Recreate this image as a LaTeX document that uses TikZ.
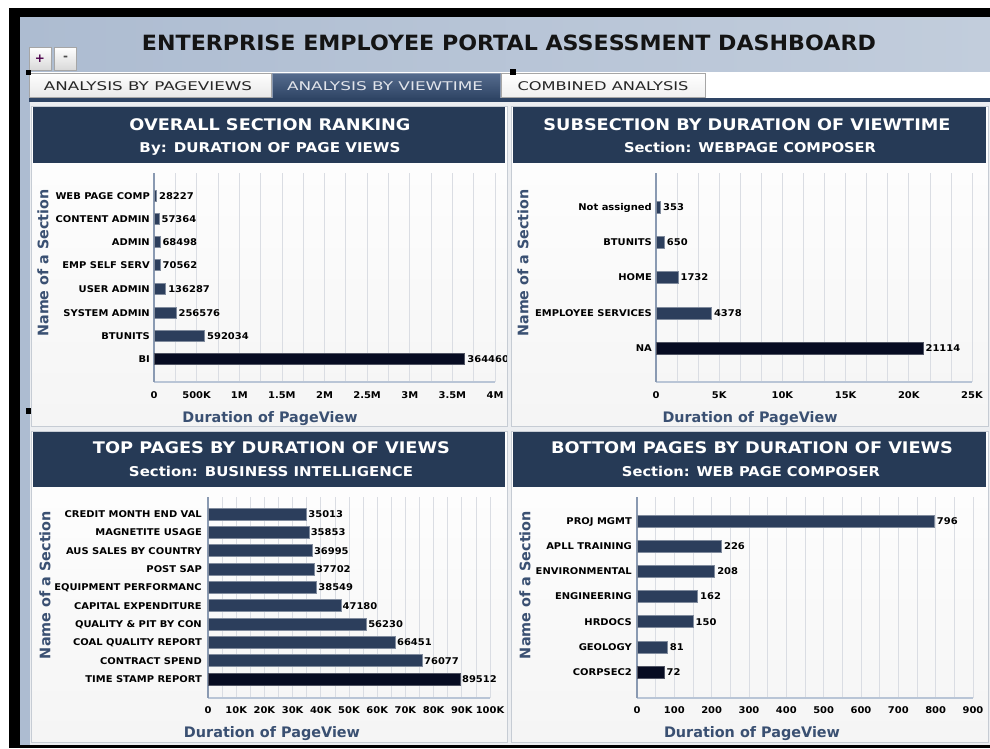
\documentclass[tikz,border=0pt]{standalone}
\usepackage{fontspec}
\setmainfont{DejaVu Sans}
\newfontfamily\lblfont[FakeStretch=1.07]{DejaVu Sans}
\usepackage{graphicx}
\newcommand\fitw[2]{\resizebox{#1pt}{\height}{#2}}
\definecolor{hdrnavy}{HTML}{263A56}
\definecolor{steel}{HTML}{ADBCD1}
\definecolor{steelb}{HTML}{C2CDDC}
\definecolor{tabdark}{HTML}{2E4464}
\definecolor{tabmid}{HTML}{566C8E}
\definecolor{barblue}{HTML}{2C3E5C}
\definecolor{bardark}{HTML}{070C22}
\definecolor{axtitle}{HTML}{3A5072}
\definecolor{gridc}{HTML}{DADDE3}
\definecolor{axisc}{HTML}{8A9AB2}
\definecolor{basec}{HTML}{B9C5D6}
\definecolor{panelb}{HTML}{C6CCD4}
\definecolor{areabg}{HTML}{ECEEF1}
\begin{document}
\begin{tikzpicture}[x=1pt,y=-1pt,
  lbl/.style={inner sep=0pt,font=\lblfont\bfseries\fontsize{9.3}{10}\selectfont,text=black},
  catlab/.style={lbl,anchor=base east},
  vallab/.style={lbl,anchor=base west},
  ticklab/.style={lbl,anchor=center},
  bar/.style={fill=barblue,draw=barblue!60!white,line width=0.5pt},
  darkbar/.style={fill=bardark,draw=bardark!70!white,line width=0.5pt},
  gridl/.style={draw=gridc,line width=0.7pt},
  axisl/.style={draw=axisc,line width=1.2pt},
  basel/.style={draw=basec,line width=1.4pt},
  axt/.style={inner sep=0pt,text=axtitle,font=\bfseries\fontsize{14.5}{16}\selectfont},
  hdr1/.style={inner sep=0pt,anchor=base,text=white,font=\bfseries\fontsize{16}{18}\selectfont},
  hdr2/.style={inner sep=0pt,anchor=base,text=white,font=\bfseries\fontsize{13.5}{15}\selectfont},
  panel/.style={draw=panelb,line width=0.8pt,top color=white,bottom color=black!4},
  hdrbox/.style={fill=hdrnavy},
  tablab/.style={inner sep=0pt,anchor=base,font=\fontsize{12}{14}\selectfont},
  btn/.style={draw=black!35,top color=white,bottom color=black!15,minimum width=22pt,minimum height=23pt,inner sep=0pt,font=\bfseries\fontsize{12}{13}\selectfont},
  marker/.style={fill=black}
]
\useasboundingbox (0,0) rectangle (990,748);
% frame and background
\fill[white] (0,0) rectangle (990,748);
\fill[black] (9,8) rectangle (990,748);
\fill[areabg] (20,17) rectangle (990,745);
\shade[left color=steel,right color=steelb] (20,17) rectangle (990,100);
\fill[steel] (20,17) rectangle (30,745);
% title
\node[inner sep=0pt,anchor=base,text=black!92,font=\bfseries\fontsize{21}{24}\selectfont] (title) at (509,50.7) {\fitw{734}{ENTERPRISE EMPLOYEE PORTAL ASSESSMENT DASHBOARD}};
% zoom buttons
\node[btn,text=violet!60!black] (plus) at (40,58.5) {+};
\node[btn,text=black!70] (minus) at (65.5,58.5) {-};
% tab strip
\fill[white] (29,72) rectangle (990,98);
\draw[draw=black!35,top color=white,bottom color=black!9] (29,73) rectangle (271,97);
\draw[draw=tabmid!70!white,top color=tabmid,bottom color=tabdark] (272,73) rectangle (500,99);
\draw[draw=black!35,top color=white,bottom color=black!6] (501,73) rectangle (705,97);
\fill[tabdark] (29,98) rectangle (990,102);
\node[tablab,text=black!85] (tab1) at (148,90) {\fitw{208}{ANALYSIS BY PAGEVIEWS}};
\node[tablab,text=white!82!tabmid] (tab2) at (385,90) {\fitw{196}{ANALYSIS BY VIEWTIME}};
\node[tablab,text=black!85] (tab3) at (603,90) {\fitw{171}{COMBINED ANALYSIS}};
% selection markers
\fill[marker] (26,70) rectangle (31,75);
\fill[marker] (510,69) rectangle (516,75);
\fill[marker] (26,408) rectangle (31,414);
% panels
\draw[panel] (31,106) rectangle (507,426);
\draw[panel] (511,106) rectangle (988,426);
\draw[panel] (31,431) rectangle (507,742);
\draw[panel] (511,431) rectangle (988,742);
\fill[hdrbox] (33,107) rectangle (505,163);
\fill[hdrbox] (513,107) rectangle (986,163);
\fill[hdrbox] (33,432) rectangle (505,487);
\fill[hdrbox] (513,432) rectangle (986,487);
% headers
\node[hdr1] (h1a) at (270,130.8) {\fitw{281}{OVERALL SECTION RANKING}};
\node[hdr2] (h1b) at (270,152.9) {\fitw{261}{By: DURATION OF PAGE VIEWS}};
\node[hdr1] (h2a) at (747,130.8) {\fitw{407}{SUBSECTION BY DURATION OF VIEWTIME}};
\node[hdr2] (h2b) at (750,152.9) {\fitw{252}{Section: WEBPAGE COMPOSER}};
\node[hdr1] (h3a) at (271.5,453.8) {\fitw{357}{TOP PAGES BY DURATION OF VIEWS}};
\node[hdr2] (h3b) at (271,476.9) {\fitw{284}{Section: BUSINESS INTELLIGENCE}};
\node[hdr1] (h4a) at (752,453.8) {\fitw{402}{BOTTOM PAGES BY DURATION OF VIEWS}};
\node[hdr2] (h4b) at (751,476.9) {\fitw{258}{Section: WEB PAGE COMPOSER}};

% ---------- chart 1 ----------
\begin{scope}
\clip (33,163) rectangle (506,425);
\foreach \i in {1,...,16} \draw[gridl] ({154+\i*21.3125},173) -- ({154+\i*21.3125},382);
\draw[basel] (154,382) -- (495,382);
\draw[axisl] (154,173) -- (154,382);
\foreach \t [count=\i from 0] in {0,500K,1M,1.5M,2M,2.5M,3M,3.5M,4M}
  \node[ticklab] (at\i) at ({154+\i*42.625},395) {\t};
\foreach \lab/\yy/\xe/\val [count=\i] in {WEB PAGE COMP/196/156.4/28227,CONTENT ADMIN/219/158.9/57364,ADMIN/242/159.8/68498,EMP SELF SERV/265/160.0/70562,USER ADMIN/289/165.6/136287,SYSTEM ADMIN/313/175.9/256576,BTUNITS/336/204.5/592034}{
  \draw[bar] (154,\yy-5.5) rectangle (\xe,\yy+5.5);
  \node[catlab] (ac\i) at (150,\yy+3.3) {\lab};
  \node[vallab] (av\i) at (\xe+2.5,\yy+3.3) {\val};
}
\draw[darkbar] (154,353.5) rectangle (464.7,364.5);
\node[catlab] (ac8) at (150,362.3) {BI};
\node[vallab] (av8) at (467.2,362.3) {364460};
\node[axt,anchor=base] (ax1) at (270,422.6) {\fitw{175}{Duration of PageView}};
\node[axt,rotate=90] (ay1) at (43,263) {\fitw{147}{Name of a Section}};
\end{scope}

% ---------- chart 2 ----------
\foreach \i in {1,...,15} \draw[gridl] ({656+\i*21.0667},173) -- ({656+\i*21.0667},382);
\draw[basel] (656,382) -- (972,382);
\draw[axisl] (656,173) -- (656,382);
\foreach \t [count=\i from 0] in {0,5K,10K,15K,20K,25K}
  \node[ticklab] (bt\i) at ({656+\i*63.2},395) {\t};
\foreach \lab/\yy/\xe/\val [count=\i] in {Not assigned/207/660.5/353,BTUNITS/242/664.2/650,HOME/277/677.9/1732,EMPLOYEE SERVICES/313/711.3/4378}{
  \draw[bar] (656,\yy-6) rectangle (\xe,\yy+6);
  \node[catlab] (bc\i) at (652,\yy+3.3) {\lab};
  \node[vallab] (bv\i) at (\xe+2.5,\yy+3.3) {\val};
}
\draw[darkbar] (656,342) rectangle (922.9,354);
\node[catlab] (bc5) at (652,351.3) {NA};
\node[vallab] (bv5) at (925.4,351.3) {21114};
\node[axt,anchor=base] (ax2) at (750,422.6) {\fitw{175}{Duration of PageView}};
\node[axt,rotate=90] (ay2) at (523,263) {\fitw{147}{Name of a Section}};

% ---------- chart 3 ----------
\foreach \i in {1,...,20} \draw[gridl] ({208+\i*14.1},497) -- ({208+\i*14.1},698);
\draw[basel] (208,698) -- (490,698);
\draw[axisl] (208,497) -- (208,698);
\foreach \t [count=\i from 0] in {0,10K,20K,30K,40K,50K,60K,70K,80K,90K,100K}
  \node[ticklab] (ct\i) at ({208+\i*28.2},710) {\t};
\foreach \lab/\yy/\xe/\val [count=\i] in {CREDIT MONTH END VAL/514/306.7/35013,MAGNETITE USAGE/532.3/309.1/35853,AUS SALES BY COUNTRY/550.7/312.3/36995,POST SAP/569/314.3/37702,EQUIPMENT PERFORMANC/587.3/316.7/38549,CAPITAL EXPENDITURE/605.7/341.0/47180,QUALITY \& PIT BY CON/624/366.6/56230,COAL QUALITY REPORT/642.3/395.4/66451,CONTRACT SPEND/660.7/422.5/76077}{
  \draw[bar] (208,\yy-6) rectangle (\xe,\yy+6);
  \node[catlab] (cc\i) at (202,\yy+3.3) {\lab};
  \node[vallab] (cv\i) at (\xe+1.5,\yy+3.3) {\val};
}
\draw[darkbar] (208,673) rectangle (460.4,685);
\node[catlab] (cc10) at (202,682.3) {TIME STAMP REPORT};
\node[vallab] (cv10) at (461.9,682.3) {89512};
\node[axt,anchor=base] (ax3) at (272,737.7) {\fitw{176}{Duration of PageView}};
\node[axt,rotate=90] (ay3) at (45,585) {\fitw{148}{Name of a Section}};

% ---------- chart 4 ----------
\foreach \i in {1,...,18} \draw[gridl] ({637+\i*18.6667},497) -- ({637+\i*18.6667},698);
\draw[basel] (637,698) -- (973,698);
\draw[axisl] (637,497) -- (637,698);
\foreach \t [count=\i from 0] in {0,100,200,300,400,500,600,700,800,900}
  \node[ticklab] (dt\i) at ({637+\i*37.3333},710) {\t};
\foreach \lab/\yy/\xe/\val [count=\i] in {PROJ MGMT/521/934.2/796,APLL TRAINING/546.2/721.4/226,ENVIRONMENTAL/571.3/714.6/208,ENGINEERING/596.5/697.5/162,HRDOCS/621.7/693.0/150,GEOLOGY/646.8/667.2/81}{
  \draw[bar] (637,\yy-6) rectangle (\xe,\yy+6);
  \node[catlab] (dc\i) at (632,\yy+3.3) {\lab};
  \node[vallab] (dv\i) at (\xe+2.5,\yy+3.3) {\val};
}
\draw[darkbar] (637,666) rectangle (663.9,678);
\node[catlab] (dc7) at (632,675.3) {CORPSEC2};
\node[vallab] (dv7) at (666.4,675.3) {72};
\node[axt,anchor=base] (ax4) at (752,737.7) {\fitw{176}{Duration of PageView}};
\node[axt,rotate=90] (ay4) at (525,585) {\fitw{148}{Name of a Section}};
\end{tikzpicture}
\end{document}
